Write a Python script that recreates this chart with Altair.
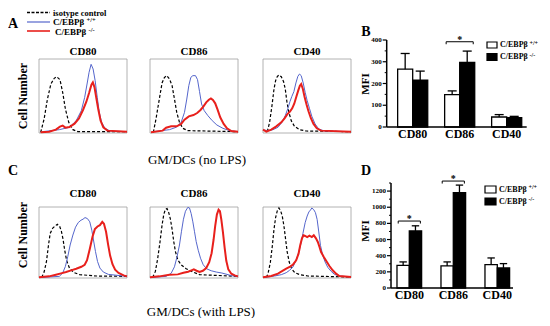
import altair as alt
import pandas as pd

SERIF = "Liberation Serif"
BLUE = "#5566cc"
RED = "#e8201c"

hist_titles = ["CD80", "CD86", "CD40"]

# ---- Row 1: GM/DCs (no LPS); points = (fluorescence %, cell number %) ----
r1_cd80_iso = [(1.9,0.9),(5.8,18.9),(9.6,45.9),(13.5,66.2),(17.3,73.9),(20,76.1),(23.8,72.1),(26.9,55),(30,32.4),(33.8,14.4),(38.5,4.5),(44,1.8),(65,1.8),(100,1.8)]
r1_cd80_wt = [(3.8,1.8),(23.1,4.5),(34.6,7.7),(42.3,16.7),(48.1,30.2),(51.9,48.2),(54.6,66.2),(56.9,82),(59.2,92.8),(61.5,86.5),(63.8,70.7),(66.2,48.2),(68.5,27.9),(71.2,14.4),(75,6.3),(80.8,2.7),(100,1.8)]
r1_cd80_ko = [(1.9,0.9),(11.5,1.8),(19.2,4.5),(23.8,8.6),(26.9,9.9),(30,7.2),(34.6,8.1),(40.4,12.6),(45.4,19.8),(50,31.1),(53.8,42.3),(56.9,54.1),(59.6,65.3),(61.2,68.5),(63.1,61.7),(65,48.2),(67.3,32.4),(70,16.7),(73.1,7.7),(77.7,3.2),(100,1.8)]

r1_cd86_iso = [(3.8,0.9),(6.8,18.9),(10.6,45.9),(13.7,67.6),(16.3,74.8),(19,77.5),(22.1,73),(25.1,64),(27.8,45.9),(30.4,27.9),(33.5,14.4),(37.3,6.3),(43,3.2),(100,1.8)]
r1_cd86_wt = [(3.8,1.8),(22.1,4.5),(29.7,7.7),(35.4,14.4),(39.2,27.9),(41.8,45.9),(44.1,64),(46.4,75.2),(48.7,77.5),(51.7,77.5),(54,72.1),(56.3,55.9),(58.6,39.2),(61.6,30.2),(65.8,23.4),(70.7,16.7),(76,10.8),(82.9,6.3),(90.5,3.2),(100,1.8)]
r1_cd86_ko = [(1.1,0.9),(14.4,3.2),(18.3,7.2),(24,9),(30.4,9),(35.4,12.2),(39.2,18),(44.1,22.5),(49.4,24.3),(53.6,27),(57.4,31.1),(60.8,36),(63.9,41.4),(66.9,45),(69.2,46.8),(71.5,44.6),(74.1,40.1),(76.8,31.5),(79.8,21.2),(83.7,12.2),(87.5,6.3),(92.4,2.7),(100,1.8)]

r1_cd40_iso = [(4.9,1.8),(7.5,14.4),(10.2,36.9),(12.5,59.5),(14.3,70.7),(16.2,76.1),(18.1,78.4),(20.8,76.1),(23.4,69.4),(25.3,59.5),(27.2,41.9),(29.4,27.9),(32.1,16.7),(35.8,9),(41.5,4.5),(49.1,2.7),(100,1.8)]
r1_cd40_wt = [(0,4.1),(5.7,3.2),(11.3,4.5),(17,7.7),(21.5,14.4),(25.3,23.4),(28.3,33.3),(30.6,42.3),(32.8,49.5),(35.1,55.9),(37.4,67.6),(39.6,76.6),(41.5,79.7),(43.4,77.5),(45.7,67.6),(47.9,55),(50.2,43.7),(52.8,33.3),(55.5,22.5),(59.2,12.2),(63.4,5.4),(69.8,2.7),(100,1.8)]
r1_cd40_ko = [(0,4.5),(3.8,1.8),(9.4,4.5),(15.1,9),(20.8,14.4),(24.5,19.8),(27.5,25.2),(30.6,28.8),(33.2,33.3),(35.5,39.6),(37.7,48.2),(40,57.2),(41.9,64),(43.4,66.2),(45.3,59.5),(47.2,49.1),(49.4,38.7),(51.7,29.3),(54.3,20.3),(57.4,12.2),(61.1,6.3),(66,3.2),(100,1.8)]

# ---- Row 2: GM/DCs (with LPS) ----
r2_cd80_iso = [(3.1,0.9),(5.8,8.4),(8.5,23.3),(10.8,46.5),(12.7,62.8),(15.4,69.8),(18.5,73.5),(20.8,75.8),(23.5,72.6),(25.4,66),(27.3,54.9),(29.2,39.1),(31.5,24.2),(34.6,14),(39.2,7.9),(46.2,4.7),(65.4,2.8),(100,2.3)]
r2_cd80_wt = [(3.8,0.9),(23.1,2.3),(26.9,7),(30,16.3),(32.7,30.2),(35.4,46.5),(38.5,60.5),(41.5,71.6),(44.6,78.1),(47.7,81.4),(50,82.8),(52.3,85.1),(55,83.7),(57.7,79.1),(60,67.4),(61.9,53.5),(64.2,37.2),(66.5,23.3),(69.2,14),(73.1,8.4),(78.8,5.1),(100,2.3)]
r2_cd80_ko = [(0,0.9),(11.5,2.3),(19.2,4.7),(25,6.5),(30.8,8.4),(36.5,10.7),(42.3,13),(48.1,15.8),(51.9,18.6),(54.6,25.1),(57.7,40.9),(60.8,58.1),(63.5,68.8),(66.5,72.6),(69.2,74.4),(71.9,79.1),(73.8,76.3),(76.2,65.1),(78.5,47.4),(80.8,31.6),(83.5,19.5),(86.5,11.6),(90.4,7),(96.2,3.7),(100,2.3)]

r2_cd86_iso = [(3,0.9),(6.1,9.3),(8.7,27),(11.4,51.2),(13.7,74.4),(15.6,89.3),(17.5,96.7),(19.4,97.7),(21.3,92.1),(23.2,82.8),(25.1,68.8),(27,51.2),(28.9,37.2),(31.6,25.6),(35.4,18.6),(41.1,13),(48.7,8.4),(56.3,4.7),(100,2.3)]
r2_cd86_wt = [(3,0.9),(18.3,2.3),(24,6.5),(27.8,15.8),(30.8,30.2),(33.5,46.5),(35.7,65.1),(38,82.8),(40.3,94),(43,99.5),(44.9,98.6),(46.8,90.7),(48.7,79.1),(50.6,65.1),(52.5,51.2),(54.8,39.1),(57.4,27.9),(60.5,18.6),(64.3,13),(69.6,10.2),(75.3,8.4),(81.7,7),(87.5,5.1),(92.4,3.3),(100,2.3)]
r2_cd86_ko = [(0,0.9),(10.6,2.3),(22.1,4.7),(31.6,5.1),(38,7.4),(43.3,8.8),(47.1,10.7),(49.8,12.1),(52.9,10.2),(56.3,8.4),(60.1,10.2),(63.9,14),(67.3,22.3),(70,34.9),(72.2,53.5),(74.1,73.5),(76,89.3),(77.9,96.3),(79.5,94),(81,82.8),(82.9,64.2),(84.8,42.8),(86.7,24.2),(89,12.1),(92.4,6),(96.2,3.7),(100,2.3)]

r2_cd40_iso = [(3.8,0.9),(5.7,6.1),(8.3,21.6),(10.6,45.1),(12.5,68.5),(14.3,85),(16.2,94.4),(18.1,98.6),(20,94.8),(21.9,87.3),(23.8,73.2),(25.7,54.5),(27.5,36.6),(29.8,22.5),(32.5,13.1),(36.2,7.5),(41.9,4.7),(50.9,2.8),(100,1.4)]
r2_cd40_wt = [(1.9,0.9),(13.2,2.8),(20.8,4.7),(26.4,7.5),(30.2,10.8),(34,15.5),(36.6,22.5),(39.6,31.9),(42.6,46),(45.3,62.4),(47.9,77.9),(50.2,87.3),(52.1,93),(54,95.8),(55.5,98.6),(57.7,96.2),(59.6,92),(61.5,82.6),(63.4,64.8),(65.3,46),(67.9,31.9),(70.6,22.5),(73.6,15),(77.4,9.4),(81.1,5.2),(86.8,2.8),(100,1.4)]
r2_cd40_ko = [(0,0.9),(9.4,2.8),(17,6.1),(22.6,10.3),(26.4,13.1),(30.2,15.5),(34,18.8),(37.7,24.9),(40.4,34.3),(42.3,46),(44.2,55.4),(46,60.1),(47.9,59.2),(50.2,57.7),(52.8,59.6),(55.5,57.7),(57.7,60.1),(60,56.3),(62.3,50.7),(64.2,43.7),(66,36.6),(69.1,29.6),(72.1,23.5),(75.5,16.9),(79.2,10.8),(83,6.1),(86.8,2.8),(100,1.4)]

# ---- Bar charts (MFI) ----
bar_cats = ["CD80", "CD86", "CD40"]
b_wt = [266, 149, 46]
b_wt_err = [72, 17, 11]
b_ko = [215, 297, 43]
b_ko_err = [42, 52, 6]
b_sig = [("CD86", 392)]
b_ticks = [0, 100, 200, 300, 400]
b_minor = [50, 150, 250, 350]

d_wt = [281, 273, 290]
d_wt_err = [42, 50, 82]
d_ko = [707, 1179, 248]
d_ko_err = [63, 95, 54]
d_sig = [("CD80", 829), ("CD86", 1324)]
d_ticks = [0, 200, 400, 600, 800, 1000, 1200]
d_minor = [100, 300, 500, 700, 900, 1100, 1300]

ONE = pd.DataFrame({"k": [0]})


def txt(s, x, y, size, weight="bold", angle=0, align="left", baseline="middle"):
    kw = dict(text=s, fontSize=size, fontWeight=weight, font=SERIF, align=align,
              baseline=baseline, color="black")
    if angle:
        kw["angle"] = angle
    return alt.Chart(ONE).mark_text(**kw).encode(x=alt.value(x), y=alt.value(y))


def hline(x1, x2, y, color, width, dash=None):
    kw = dict(color=color, strokeWidth=width)
    if dash:
        kw["strokeDash"] = dash
    return alt.Chart(ONE).mark_rule(**kw).encode(x=alt.value(x1), x2=alt.value(x2), y=alt.value(y))


def box(x1, x2, y1, y2, fill):
    return alt.Chart(ONE).mark_rect(fill=fill, stroke="black", strokeWidth=1.2).encode(
        x=alt.value(x1), x2=alt.value(x2), y=alt.value(y1), y2=alt.value(y2))


def hist_panel(iso, wt, ko, title, xr, yr, title_gap):
    xs = alt.Scale(domain=[0, 100], range=xr, nice=False, zero=False)
    ys = alt.Scale(domain=[0, 100], range=yr, nice=False, zero=False)
    X = alt.X("x:Q", scale=xs, axis=None)
    Y = alt.Y("y:Q", scale=ys, axis=None)
    frame = alt.Chart(pd.DataFrame({"x": [0], "x2": [100], "y": [0], "y2": [100]})).mark_rect(
        fillOpacity=0, stroke="#a0a0a0", strokeWidth=0.8).encode(x=X, x2="x2:Q", y=Y, y2="y2:Q")

    def curve(pts, **kw):
        df = pd.DataFrame(pts, columns=["x", "y"])
        df["i"] = range(len(df))
        return alt.Chart(df).mark_line(**kw).encode(x=X, y=Y, order="i:Q")

    upp = 100.0 / (yr[0] - yr[1])
    tdf = pd.DataFrame({"x": [50], "y": [100 + title_gap * upp], "t": [title]})
    ttl = alt.Chart(tdf).mark_text(font=SERIF, fontWeight="bold", fontSize=11, color="black").encode(
        x=X, y=Y, text="t:N")
    return alt.layer(
        frame,
        curve(iso, color="black", strokeWidth=1.2, strokeDash=[3, 2]),
        curve(wt, color=BLUE, strokeWidth=1),
        curve(ko, color=RED, strokeWidth=2),
        ttl,
    )


def bar_panel(wt, wt_err, ko, ko_err, sig, ticks, minor, xr, xdom, yr, ydom, half):
    rows = []
    for i, _ in enumerate(bar_cats):
        rows.append(dict(x0=i - half, x1=i, v=wt[i], top=wt[i] + wt_err[i], c=i - half / 2, z=0, f="white"))
        rows.append(dict(x0=i, x1=i + half, v=ko[i], top=ko[i] + ko_err[i], c=i + half / 2, z=0, f="black"))
    df = pd.DataFrame(rows)
    cap = half * 0.3
    df["cl"] = df["c"] - cap
    df["cr"] = df["c"] + cap
    xs = alt.Scale(domain=xdom, range=xr, nice=False, zero=False)
    ys = alt.Scale(domain=ydom, range=yr, nice=False, zero=False)
    XN = lambda f: alt.X(f, scale=xs, axis=None)
    YN = lambda f: alt.Y(f, scale=ys, axis=None)

    bars = alt.Chart(df).mark_rect(stroke="black", strokeWidth=1.3).encode(
        x=XN("x0:Q"), x2="x1:Q", y=YN("v:Q"), y2="z:Q", fill=alt.Fill("f:N", scale=None))
    err = alt.Chart(df).mark_rule(color="black", strokeWidth=1.3).encode(x=XN("c:Q"), y=YN("v:Q"), y2="top:Q")
    caps = alt.Chart(df).mark_rule(color="black", strokeWidth=1.3).encode(x=XN("cl:Q"), x2="cr:Q", y=YN("top:Q"))

    # axes drawn through the same scales
    frame = pd.DataFrame({"x0": [xdom[0]], "x1": [xdom[1]], "y0": [ydom[0]], "y1": [ydom[1]]})
    yline = alt.Chart(frame).mark_rule(color="black", strokeWidth=1.5).encode(x=XN("x0:Q"), y=YN("y0:Q"), y2="y1:Q")
    xline = alt.Chart(frame).mark_rule(color="black", strokeWidth=1.5).encode(x=XN("x0:Q"), x2="x1:Q", y=YN("y0:Q"))
    tdf = pd.DataFrame({"v": ticks, "x": xdom[0], "lab": [str(t) for t in ticks]})
    mdf = pd.DataFrame({"v": minor, "x": xdom[0]})
    tmaj = alt.Chart(tdf).mark_rule(color="black", strokeWidth=1.2, x2Offset=-4).encode(
        x=XN("x:Q"), x2="x:Q", y=YN("v:Q"))
    tmin = alt.Chart(mdf).mark_rule(color="black", strokeWidth=1, x2Offset=-2).encode(
        x=XN("x:Q"), x2="x:Q", y=YN("v:Q"))
    tlab = alt.Chart(tdf).mark_text(font=SERIF, fontWeight="bold", fontSize=7, align="right",
                                    baseline="middle", dx=-5, color="black").encode(
        x=XN("x:Q"), y=YN("v:Q"), text="lab:N")
    cdf = pd.DataFrame({"i": list(range(len(bar_cats))), "cat": bar_cats, "y": ydom[0]})
    clab = alt.Chart(cdf).mark_text(font=SERIF, fontWeight="bold", fontSize=12, align="center",
                                    baseline="top", dy=2, color="black").encode(
        x=XN("i:Q"), y=YN("y:Q"), text="cat:N")

    leg = 2.5 * (ydom[1] - ydom[0]) / (yr[0] - yr[1])
    srows = []
    for cat, lev in sig:
        i = bar_cats.index(cat)
        srows.append(dict(a=i - half * 0.9, b=i + half * 0.9, m=i, lev=lev, low=lev - leg))
    sdf = pd.DataFrame(srows)
    brk = alt.Chart(sdf).mark_rule(color="black", strokeWidth=1).encode(x=XN("a:Q"), x2="b:Q", y=YN("lev:Q"))
    lg1 = alt.Chart(sdf).mark_rule(color="black", strokeWidth=1).encode(x=XN("a:Q"), y=YN("lev:Q"), y2="low:Q")
    lg2 = alt.Chart(sdf).mark_rule(color="black", strokeWidth=1).encode(x=XN("b:Q"), y=YN("lev:Q"), y2="low:Q")
    star = alt.Chart(sdf).mark_text(text="*", font=SERIF, fontSize=10, fontWeight="bold",
                                    baseline="alphabetic", dy=1, color="black").encode(x=XN("m:Q"), y=YN("lev:Q"))
    return alt.layer(bars, err, caps, yline, xline, tmaj, tmin, tlab, clab, brk, lg1, lg2, star)


H = 310
W = 534
hx = [[31, 119], [142, 230], [255, 343]]
row1_y = [125, 51]
row2_y = [270, 199]

panels = []
r1 = [(r1_cd80_iso, r1_cd80_wt, r1_cd80_ko), (r1_cd86_iso, r1_cd86_wt, r1_cd86_ko), (r1_cd40_iso, r1_cd40_wt, r1_cd40_ko)]
r2 = [(r2_cd80_iso, r2_cd80_wt, r2_cd80_ko), (r2_cd86_iso, r2_cd86_wt, r2_cd86_ko), (r2_cd40_iso, r2_cd40_wt, r2_cd40_ko)]
for k in range(3):
    panels.append(hist_panel(*r1[k], hist_titles[k], hx[k], row1_y, 7))
for k in range(3):
    panels.append(hist_panel(*r2[k], hist_titles[k], hx[k], row2_y, 13))

panels.append(bar_panel(b_wt, b_wt_err, b_ko, b_ko_err, b_sig, b_ticks, b_minor,
                        [378.7, 518.7], [-0.553, 2.426], [119, 32], [0, 400], 0.32))
panels.append(bar_panel(d_wt, d_wt_err, d_ko, d_ko_err, d_sig, d_ticks, d_minor,
                        [383, 505], [-0.416, 2.357], [280, 175], [0, 1300], 0.28))

ann = [
    # top-left legend
    hline(19, 42, 4.5, "black", 1.6, [3, 1.5]),
    txt("isotype control", 45, 4.5, 8.5),
    hline(19, 42, 14, BLUE, 1.2),
    txt("C/EBPβ", 45, 14, 9),
    txt("+/+", 78.5, 12, 6.5),
    hline(19, 42, 23, RED, 1.6),
    txt("C/EBPβ", 47, 24, 9),
    txt("-/-", 80.5, 21.5, 6.5),
    # panel letters
    txt("A", 0, 16, 14),
    txt("C", 0, 163, 14),
    txt("B", 358, 24, 14, align="center"),
    txt("D", 358, 163, 14, align="center"),
    # axis titles
    txt("Cell Number", 15, 88, 12, angle=270, align="center"),
    txt("Cell Number", 15, 227, 12, angle=270, align="center"),
    txt("MFI", 357.5, 76, 11, angle=270, align="center"),
    txt("MFI", 357.5, 223, 11, angle=270, align="center"),
    # captions
    txt("GM/DCs (no LPS)", 189, 152, 13, weight="normal", align="center"),
    txt("GM/DCs (with LPS)", 193, 304, 13, weight="normal", align="center"),
    # bar legends
    box(479, 489, 34, 40, "white"),
    txt("C/EBPβ", 492, 37, 8),
    txt("+/+", 521.5, 34.5, 6),
    box(479, 489, 45.5, 52.5, "black"),
    txt("C/EBPβ", 492, 49, 8),
    txt("-/-", 521.5, 46.5, 6),
    box(477, 488, 178, 185, "white"),
    txt("C/EBPβ", 491, 181.5, 8),
    txt("+/+", 520.5, 179, 6),
    box(477, 488, 190, 197, "black"),
    txt("C/EBPβ", 491, 193.5, 8),
    txt("-/-", 520.5, 191, 6),
]

chart = alt.layer(*panels, *ann).resolve_scale(x="independent", y="independent").resolve_axis(
    x="independent", y="independent").properties(
    width=W, height=H, autosize=alt.AutoSizeParams(type="none"), padding=0
).configure_view(stroke="transparent")

chart.save("out.html", embed_options={"renderer": "svg", "actions": False})
